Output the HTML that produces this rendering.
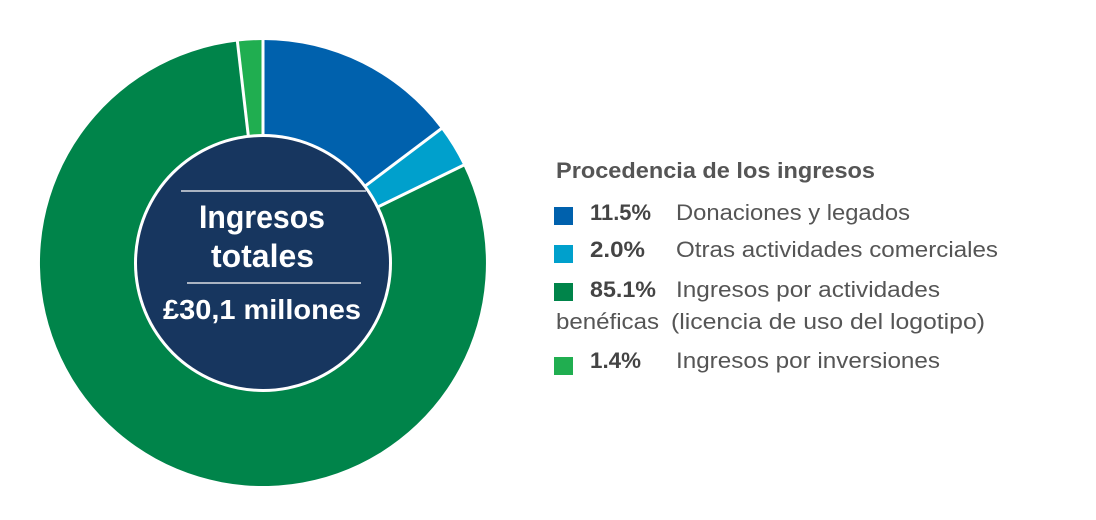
<!DOCTYPE html>
<html><head><meta charset="utf-8"><style>
body{margin:0;width:1096px;height:515px;background:#fff;overflow:hidden;font-family:"Liberation Sans",sans-serif}
</style></head><body>
<svg width="1096" height="515" viewBox="0 0 1096 515">
<g transform="translate(263,263)">
<path d="M0,0 L0,-223 A223,223 0 0 1 178.1,-134.2 Z" fill="#0061ad"/>
<path d="M0,0 L178.1,-134.2 A223,223 0 0 1 200.4,-97.7 Z" fill="#00a0cc"/>
<path d="M0,0 L200.4,-97.7 A223,223 0 1 1 -25.6,-221.5 Z" fill="#00844a"/>
<path d="M0,0 L-25.6,-221.5 A223,223 0 0 1 0,-223 Z" fill="#20ae50"/>
<g stroke="#fff" stroke-width="3">
<line x1="0" y1="0" x2="0" y2="-226"/>
<line x1="0" y1="0" x2="180.5" y2="-136"/>
<line x1="0" y1="0" x2="203" y2="-99"/>
<line x1="0" y1="0" x2="-26" y2="-225"/>
</g>
<circle r="129" fill="#fff"/>
<circle r="126" fill="#17365f"/>
<line x1="-82" y1="-72" x2="103" y2="-72" stroke="#aab4c2" stroke-width="2"/>
<line x1="-76" y1="20" x2="98" y2="20" stroke="#aab4c2" stroke-width="2"/>
<g fill="#fff" font-weight="bold">
<text x="-64" y="-35" font-size="32" textLength="126" lengthAdjust="spacingAndGlyphs">Ingresos</text>
<text x="-52" y="4" font-size="32" textLength="103" lengthAdjust="spacingAndGlyphs">totales</text>
<text x="-100" y="56" font-size="28" textLength="198" lengthAdjust="spacingAndGlyphs">£30,1 millones</text>
</g>
</g>
<g font-size="22" fill="#555">
<text x="556" y="178" font-weight="bold" textLength="319" lengthAdjust="spacingAndGlyphs">Procedencia de los ingresos</text>
<rect x="554" y="207" width="19" height="18" fill="#0061ad"/>
<rect x="554" y="245" width="19" height="18" fill="#00a0cc"/>
<rect x="554" y="283" width="19" height="18" fill="#00844a"/>
<rect x="554" y="357" width="19" height="18" fill="#20ae50"/>
<g font-weight="bold" fill="#444">
<text x="590" y="220" textLength="61" lengthAdjust="spacingAndGlyphs">11.5%</text>
<text x="590" y="257" textLength="55" lengthAdjust="spacingAndGlyphs">2.0%</text>
<text x="590" y="297" textLength="66" lengthAdjust="spacingAndGlyphs">85.1%</text>
<text x="590" y="368" textLength="51" lengthAdjust="spacingAndGlyphs">1.4%</text>
</g>
<text x="676" y="220" textLength="234" lengthAdjust="spacingAndGlyphs">Donaciones y legados</text>
<text x="676" y="257" textLength="322" lengthAdjust="spacingAndGlyphs">Otras actividades comerciales</text>
<text x="676" y="297" textLength="264" lengthAdjust="spacingAndGlyphs">Ingresos por actividades</text>
<text x="556" y="329" textLength="103" lengthAdjust="spacingAndGlyphs">benéficas</text>
<text x="671" y="329" textLength="314" lengthAdjust="spacingAndGlyphs">(licencia de uso del logotipo)</text>
<text x="676" y="368" textLength="264" lengthAdjust="spacingAndGlyphs">Ingresos por inversiones</text>
</g>
</svg>
</body></html>
